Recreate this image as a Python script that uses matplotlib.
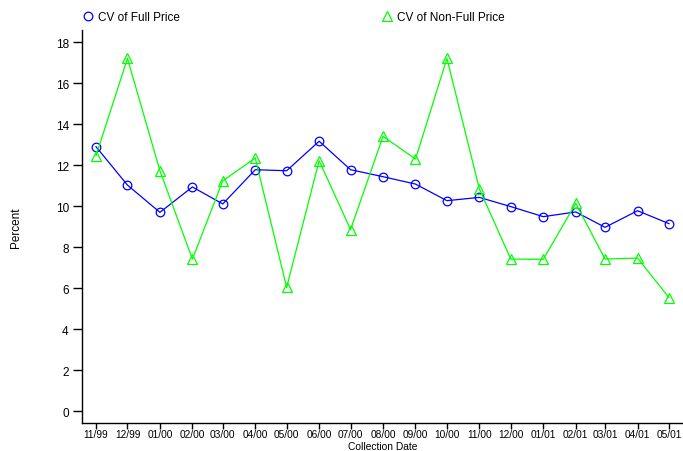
import matplotlib
matplotlib.use("Agg")
import matplotlib.pyplot as plt
from matplotlib.lines import Line2D
import datetime as dt

dates = ["11/99", "12/99", "01/00", "02/00", "03/00", "04/00", "05/00", "06/00", "07/00",
         "08/00", "09/00", "10/00", "11/00", "12/00", "01/01", "02/01", "03/01", "04/01", "05/01"]
full_price = [12.89, 11.02, 9.69, 10.93, 10.10, 11.77, 11.72, 13.16, 11.77,
              11.43, 11.07, 10.26, 10.42, 9.97, 9.48, 9.71, 8.96, 9.77, 9.14]
non_full_price = [12.46, 17.20, 11.72, 7.41, 11.23, 12.34, 6.03, 12.21, 8.85,
                  13.40, 12.29, 17.20, 10.83, 7.41, 7.40, 10.13, 7.41, 7.46, 5.53]
yticks = [0, 2, 4, 6, 8, 10, 12, 14, 16, 18]

x = [dt.datetime.strptime("01/" + d, "%d/%m/%y") for d in dates]

plt.rcParams['font.family'] = ['Liberation Sans', 'DejaVu Sans']

fig = plt.figure(figsize=(6.83, 4.52), dpi=100)
ax = fig.add_axes([82/683, 1 - 424/452, 1 - 82/683, (424 - 30.7)/452])

l1, = ax.plot(x, full_price, color='#0000ff', lw=0.9, marker='o', ms=6.2,
              mfc='none', mec='#0000ff', mew=0.9, label='CV of Full Price')
l2, = ax.plot(x, non_full_price, color='#00ff00', lw=0.9, marker='^', ms=6.5,
              mfc='none', mec='#00ff00', mew=0.9, label='CV of Non-Full Price')

pad = dt.timedelta(days=13.4)
ax.set_xlim(x[0] - pad, x[-1] + pad)
ax.set_ylim(-0.585, 18.6)
ax.set_xticks(x)
ax.set_xticklabels(dates, fontsize=7.3)
ax.set_yticks(yticks)

for s in ['top', 'right']:
    ax.spines[s].set_visible(False)
for s in ['left', 'bottom']:
    ax.spines[s].set_linewidth(1.0)
ax.tick_params(axis='both', direction='out', width=1.0)
ax.tick_params(axis='x', length=4.4, pad=0.2)
ax.tick_params(axis='y', length=6.5, pad=3, labelsize=8.5)

ax.set_xlabel('Collection Date', fontsize=7.4)
ax.xaxis.set_label_coords(0.5, (424 - 452) / 393.3)
ax.xaxis.label.set_va('bottom')
ax.set_ylabel('Percent', fontsize=8.5, labelpad=24)

h1 = Line2D([], [], color='#0000ff', marker='o', ls='none', ms=6.2, mfc='none', mew=0.9)
h2 = Line2D([], [], color='#00ff00', marker='^', ls='none', ms=6.5, mfc='none', mew=0.9)
fig.legend([h1, h2], ['CV of Full Price', 'CV of Non-Full Price'], ncol=2,
           loc='upper left', bbox_to_anchor=(74/683, 1 - 4/452), frameon=False,
           fontsize=8.5, handlelength=1.0, handletextpad=0.3, columnspacing=17.1,
           borderaxespad=0.3)

fig.savefig('out.png', dpi=100)
